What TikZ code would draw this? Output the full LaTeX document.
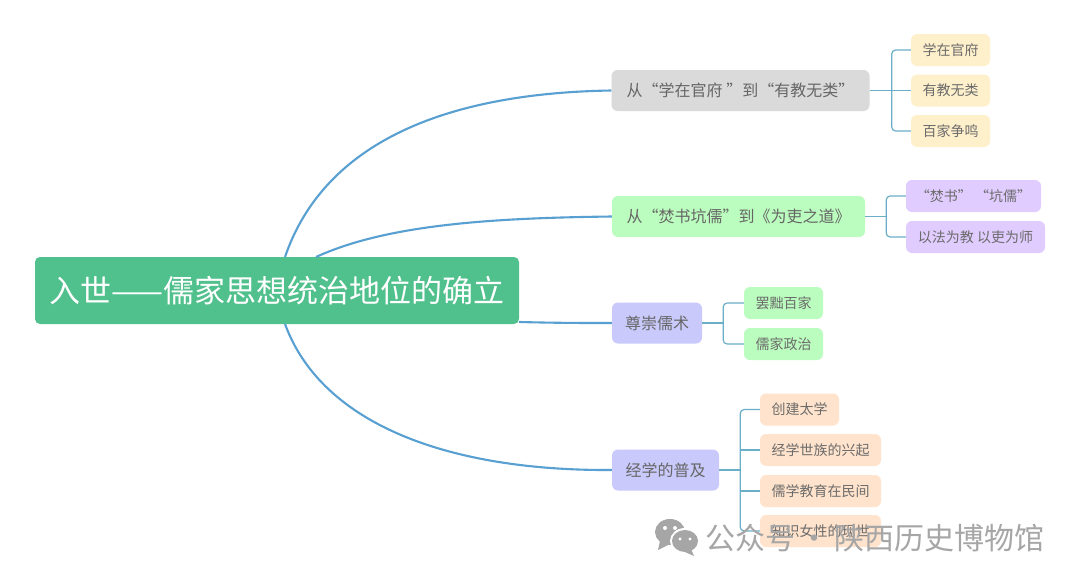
\documentclass[tikz,border=0pt]{standalone}
\usepackage{fontspec}
\setmainfont{Noto Sans CJK SC}
\usetikzlibrary{calc}
\definecolor{rootc}{HTML}{50C08C}
\definecolor{greyc}{HTML}{DADADA}
\definecolor{greenc}{HTML}{BBFDBE}
\definecolor{lavc}{HTML}{C9C9FB}
\definecolor{yelc}{HTML}{FFF0CC}
\definecolor{purc}{HTML}{E0CCFF}
\definecolor{orac}{HTML}{FFE3CC}
\definecolor{linec}{HTML}{589FD2}
\definecolor{brc}{HTML}{6AAEC8}
\definecolor{wmc}{HTML}{A6A6A6}
\tikzset{
  rootbox/.style={fill=rootc,rounded corners=5pt,inner sep=0pt,text=white,font=\fontsize{31}{31}\selectfont},
  mainbox/.style={rounded corners=6pt,inner sep=0pt,minimum height=41pt,text=black!60,font=\fontsize{16}{16}\selectfont},
  subbox/.style={rounded corners=6pt,inner sep=0pt,minimum height=32pt,text=black!58,font=\fontsize{14}{14}\selectfont},
  mainline/.style={draw=linec,line width=2.1pt},
  branch/.style={draw=brc,line width=1.2pt,rounded corners=4pt},
  watermark/.style={text=wmc,font=\fontsize{30}{30}\selectfont}
}
\begin{document}
\begin{tikzpicture}[x=1pt,y=-1pt]
\useasboundingbox[fill=white] (0,0) rectangle (1080,581);
% root
\node[rootbox,minimum width=484pt,minimum height=67pt] (root) at (277,290.5) {入世——儒家思想统治地位的确立};
% main branches
\node[mainbox,fill=greyc,minimum width=258pt] (a) at (740.5,90.5) {从“学在官府 ”到“有教无类”};
\node[mainbox,fill=greenc,minimum width=253pt] (b) at (738.5,216.5) {从“焚书坑儒”到《为吏之道》};
\node[mainbox,fill=lavc,minimum width=90pt] (c) at (657,323) {尊崇儒术};
\node[mainbox,fill=lavc,minimum width=107pt] (d) at (665.5,470) {经学的普及};
% leaves
\node[subbox,fill=yelc,minimum width=79pt] (a1) at (950.5,50) {学在官府};
\node[subbox,fill=yelc,minimum width=79pt] (a2) at (950.5,90.5) {有教无类};
\node[subbox,fill=yelc,minimum width=79pt] (a3) at (950.5,131) {百家争鸣};
\node[subbox,fill=purc,minimum width=135pt] (b1) at (973.5,196) {“焚书” “坑儒”};
\node[subbox,fill=purc,minimum width=139pt] (b2) at (975.5,237) {以法为教 以吏为师};
\node[subbox,fill=greenc,minimum width=79pt] (c1) at (783.5,303) {罢黜百家};
\node[subbox,fill=greenc,minimum width=79pt] (c2) at (783.5,344) {儒家政治};
\node[subbox,fill=orac,minimum width=79pt] (d1) at (799.5,409.5) {创建太学};
\node[subbox,fill=orac,minimum width=121pt] (d2) at (820.5,450) {经学世族的兴起};
\node[subbox,fill=orac,minimum width=121pt] (d3) at (820.5,491) {儒学教育在民间};
\node[subbox,fill=orac,minimum width=121pt] (d4) at (820.5,531) {知识女性的现世};
% main connectors
\coordinate (ra) at (285,257);
\coordinate (rb) at (316,257);
\coordinate (rc) at (519,322);
\coordinate (rd) at (285,324);
\draw[mainline] (ra) .. controls (325,140) and (450,93) .. (a.west);
\draw[mainline] (rb) .. controls (388,224) and (495,218) .. (b.west);
\draw[mainline] (rc) .. controls (560,323) and (580,323) .. (c.west);
\draw[mainline] (rd) .. controls (322,425) and (450,471) .. (d.west);
% branch connectors
\draw[branch] (a.east) -- (a2.west);
\path (a.east) -- ++(22,0) coordinate (ja);
\draw[branch] (a1.west) -| (ja) |- (a3.west);
\draw[branch] (b.east) -- ++(21,0) coordinate (jb);
\draw[branch] (b1.west) -| (jb) |- (b2.west);
\draw[branch] (c.east) -- ++(21,0) coordinate (jc);
\draw[branch] (c1.west) -| (jc) |- (c2.west);
\draw[branch] (d.east) -- ++(21,0) coordinate (jd);
\draw[branch] (d1.west) -| (jd) |- (d4.west);
\draw[branch] (jd |- d2.west) -- (d2.west);
\draw[branch] (jd |- d3.west) -- (d3.west);
% watermark
\fill[wmc] (670,532) ellipse [x radius=15,y radius=13];
\fill[wmc] (660,541) -- (658,550) -- (668,545) -- cycle;
\fill[white] (685,541) ellipse [x radius=15,y radius=13];
\fill[wmc] (685,541) ellipse [x radius=13,y radius=11];
\fill[wmc] (691,549) -- (694,556) -- (685,552) -- cycle;
\fill[white] (665,528) circle (2);
\fill[white] (675,528) circle (2);
\fill[white] (680,539) circle (1.6);
\fill[white] (690,539) circle (1.6);
\node[watermark,anchor=west,inner sep=0pt] (wm) at (705,538) {公众号\hspace{4.5pt}·\hspace{4.5pt}陕西历史博物馆};
\end{tikzpicture}
\end{document}
